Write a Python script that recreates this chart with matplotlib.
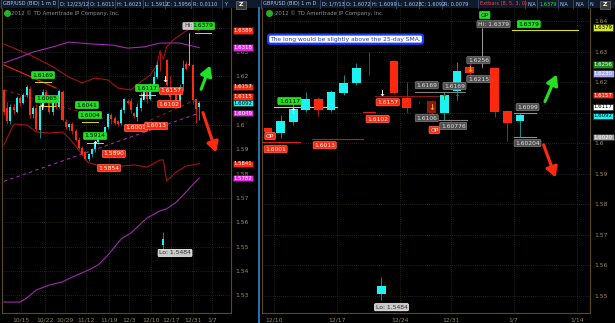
import matplotlib
matplotlib.use("Agg")
import matplotlib.pyplot as plt
import matplotlib.transforms as mtransforms
from matplotlib.patches import Rectangle

# daily GBP/USD bars (bar index 0..60); the right panel shows bars 40..60
opens = [1.6144, 1.6070, 1.6015, 1.6075, 1.6055, 1.6110, 1.6090, 1.6125, 1.6150, 1.6045,
         1.6070, 1.5980, 1.6075, 1.6135, 1.6115, 1.6055, 1.6100, 1.6075, 1.6136, 1.6012,
         1.5990, 1.6005, 1.5975, 1.5940, 1.5905, 1.5888, 1.5862, 1.5880, 1.5900, 1.5930,
         1.5960, 1.5950, 1.5990, 1.6040, 1.6030, 1.6015, 1.6010, 1.6060, 1.6100, 1.6100,
         1.6049, 1.6033, 1.6069, 1.6108, 1.6144, 1.6108, 1.6164, 1.6197, 1.6244, 1.5505,
         1.6269, 1.6148, 1.6135, 1.6138, 1.6098, 1.6170, 1.6249, 1.6250, 1.6246, 1.6105,
         1.6072]
highs = [1.6150, 1.6095, 1.6085, 1.6090, 1.6120, 1.6118, 1.6130, 1.6165, 1.6160, 1.6080,
         1.6085, 1.6090, 1.6150, 1.6145, 1.6125, 1.6105, 1.6110, 1.6150, 1.6145, 1.6025,
         1.6010, 1.6012, 1.5982, 1.5950, 1.5915, 1.5895, 1.5885, 1.5905, 1.5935, 1.5965,
         1.5968, 1.5995, 1.6050, 1.6048, 1.6038, 1.6022, 1.6068, 1.6110, 1.6108, 1.6110,
         1.6052, 1.6092, 1.6134, 1.6167, 1.6151, 1.6174, 1.6223, 1.6262, 1.6298, 1.5560,
         1.6272, 1.6200, 1.6137, 1.6140, 1.6167, 1.6266, 1.6262, 1.6379, 1.6250, 1.6108,
         1.6099]
lows = [1.6040, 1.6005, 1.6005, 1.6045, 1.6050, 1.6080, 1.6085, 1.6115, 1.6030, 1.6030,
        1.5975, 1.5945, 1.6065, 1.6100, 1.6045, 1.6040, 1.6065, 1.6070, 1.6015, 1.5985,
        1.5980, 1.5965, 1.5935, 1.5900, 1.5875, 1.5856, 1.5854, 1.5870, 1.5890, 1.5920,
        1.5940, 1.5945, 1.5985, 1.6005, 1.6000, 1.5995, 1.6002, 1.6050, 1.6085, 1.6050,
        1.6030, 1.6016, 1.6059, 1.6102, 1.6089, 1.6102, 1.6157, 1.6190, 1.6223, 1.5484,
        1.6160, 1.6098, 1.6132, 1.6095, 1.6075, 1.6141, 1.6225, 1.6245, 1.6085, 1.6007,
        1.6020]
closes = [1.6053, 1.6015, 1.6075, 1.6060, 1.6110, 1.6090, 1.6125, 1.6155, 1.6040, 1.6070,
          1.5985, 1.6075, 1.6135, 1.6110, 1.6053, 1.6100, 1.6075, 1.6140, 1.6020, 1.5990,
          1.6005, 1.5975, 1.5940, 1.5905, 1.5880, 1.5862, 1.5880, 1.5900, 1.5930, 1.5960,
          1.5950, 1.5990, 1.6045, 1.6025, 1.6010, 1.6005, 1.6062, 1.6105, 1.6090, 1.6060,
          1.6036, 1.6072, 1.6111, 1.6144, 1.6108, 1.6167, 1.6197, 1.6246, 1.6242, 1.5530,
          1.6164, 1.6115, 1.6134, 1.6098, 1.6157, 1.6236, 1.6230, 1.6248, 1.6102, 1.6066,
          1.6092]

# study lines on the left panel (bar index, value)
upper_band_x = [0, 3, 8, 14, 20, 24, 28, 32, 35, 39, 42, 45, 47, 48, 49, 50, 52, 55, 57, 60]
upper_band_y = [1.6333, 1.6316, 1.6288, 1.6247, 1.6197, 1.6173, 1.6193, 1.6185, 1.6152, 1.6144,
                1.6177, 1.6205, 1.6247, 1.6305, 1.6270, 1.6320, 1.6349, 1.6378, 1.6395, 1.6389]
lower_band_x = [0, 3, 7, 10, 14, 18, 20, 23, 26, 30, 36, 40, 44, 48, 49, 50, 53, 56, 60]
lower_band_y = [1.5918, 1.6004, 1.6000, 1.5971, 1.5967, 1.5971, 1.5947, 1.5897, 1.5844, 1.5831,
                1.5831, 1.5836, 1.5827, 1.5856, 1.5856, 1.5770, 1.5807, 1.5831, 1.5841]
upper_env_x = [0, 5, 9, 15, 20, 27, 33, 38, 43, 48, 54, 60]
upper_env_y = [1.6255, 1.6279, 1.6300, 1.6321, 1.6341, 1.6333, 1.6329, 1.6316, 1.6321, 1.6337,
               1.6337, 1.6318]
lower_env_x = [0, 5, 7, 10, 14, 18, 21, 26, 29, 32, 36, 39, 44, 48, 50, 53, 56, 60]
lower_env_y = [1.5272, 1.5272, 1.5289, 1.5322, 1.5342, 1.5355, 1.5375, 1.5404, 1.5425, 1.5466,
               1.5531, 1.5556, 1.5618, 1.5647, 1.5655, 1.5683, 1.5725, 1.5782]
sma_dash_x = [0, 60]
sma_dash_y = [1.5768, 1.6049]
trend_a_x = [0, 40, 60]
trend_a_y = [1.6144, 1.5990, 1.6110]
trend_b_x = [0, 16]
trend_b_y = [1.6247, 1.6152]

left_date_pos = [5.2, 12.6, 18.8, 25.2, 32.3, 38.5, 45.2, 51.4, 58.2, 64]
left_date_lbl = ["10/15", "10/22", "10/29", "11/12", "11/19", "12/3", "12/10", "12/17", "12/31", "1/7"]
right_date_pos = [0.5, 5.5, 10.5, 14.5, 19.5, 24.5]
right_date_lbl = ["12/10", "12/17", "12/24", "12/31", "1/7", "1/14"]
left_price_ticks = [1.53, 1.54, 1.55, 1.56, 1.57, 1.58, 1.59, 1.60, 1.61, 1.62, 1.63, 1.64]
left_hidden = [1.61, 1.64]          # covered by price tags in the screenshot
right_price_ticks = [1.55, 1.56, 1.57, 1.58, 1.59, 1.60, 1.61, 1.62, 1.63, 1.64]
right_hidden = [1.61]

BG = "black"
CYAN, CYAN_W = "#1cf2f2", "#128c8c"
RED, RED_W = "#ff2a0e", "#b81a0a"
TAN = "#a08a50"
GRID = "#4a4030"
MAROON = "#a31212"
PURPLE = "#a22ab0"


def candles(ax, xs, o, h, l, c, width):
    for x, oo, hh, ll, cc in zip(xs, o, h, l, c):
        up = cc >= oo
        ax.vlines(x, ll, hh, color=CYAN_W if up else RED_W, lw=0.7, zorder=2)
        ax.bar(x, max(abs(cc - oo), 0.00012), width, bottom=min(oo, cc),
               color=CYAN if up else RED, lw=0, zorder=3)


def tag(ax, x, y, s, fc, tc="white", ec=None, fs=4.3):
    ax.text(x, y, s, fontsize=fs, color=tc, ha="center", va="center", zorder=6,
            clip_on=False,
            bbox=dict(boxstyle="round,pad=0.18", fc=fc, ec=ec or fc, lw=0.5))


def axis_tag(ax, y, s, fc, tc="white"):
    tr = mtransforms.blended_transform_factory(ax.transAxes, ax.transData)
    ax.text(1.012, y, s, transform=tr, fontsize=3.9, color=tc, ha="left", va="center",
            zorder=6, clip_on=False,
            bbox=dict(boxstyle="square,pad=0.12", fc=fc, ec="#202020", lw=0.4))


def style(ax, xpos, xlbl, yticks, hidden):
    ax.set_facecolor(BG)
    ax.yaxis.tick_right()
    ax.set_yticks(yticks)
    ax.set_yticklabels(["" if any(abs(v - hv) < 1e-9 for hv in hidden) else f"{v:g}" for v in yticks])
    ax.set_xticks(xpos)
    ax.set_xticklabels(xlbl)
    ax.tick_params(colors=TAN, labelsize=4.3, length=0, pad=3)
    ax.grid(True, color=GRID, ls=(0, (1, 2)), lw=0.5)
    for s in ax.spines.values():
        s.set_color("#5c4a1e")
        s.set_linewidth(0.8)
    ax.spines["top"].set_visible(False)


fig = plt.figure(figsize=(6.15, 3.23), dpi=100, facecolor=BG)
W, H = 615.0, 323.0

axL = fig.add_axes([2 / W, 10 / H, 229 / W, 305 / H])
axR = fig.add_axes([262 / W, 10 / H, 328 / W, 305 / H])

# ---------------- left panel ----------------
idx = list(range(len(opens)))
style(axL, left_date_pos, left_date_lbl, left_price_ticks, left_hidden)
axL.set_xlim(-0.6, 69.8)
axL.set_ylim(1.5227, 1.6481)
axL.plot(upper_band_x, upper_band_y, color=MAROON, lw=0.8, zorder=1)
axL.plot(lower_band_x, lower_band_y, color=MAROON, lw=0.8, zorder=1)
axL.plot(upper_env_x, upper_env_y, color=PURPLE, lw=0.8, zorder=1)
axL.plot(lower_env_x, lower_env_y, color=PURPLE, lw=0.8, zorder=1)
axL.plot(sma_dash_x, sma_dash_y, color=PURPLE, lw=0.8, ls=(0, (3, 3)), zorder=1)
axL.plot(trend_a_x, trend_a_y, color="#8c1a10", lw=0.8, ls=(0, (3, 3)), zorder=1)
axL.plot(trend_b_x, trend_b_y, color="#e02010", lw=0.9, zorder=1)
candles(axL, idx, opens, highs, lows, closes, 0.62)
axL.vlines(57, closes[57], highs[57], color="#b0b0b0", lw=0.7, zorder=4)

for x, y, s in [(12, 1.6205, "1.6169"), (13.2, 1.6107, "1.6065"), (25.5, 1.6082, "1.6041"),
                (26.5, 1.6041, "1.6004"), (28, 1.5955, "1.5914"), (44, 1.6152, "1.6117"),
                (61.2, 1.6407, "1.6379")]:
    tag(axL, x, y, s, "#22e022", "black")
    axL.plot([x - 2.5, x + 2.5], [y - 0.0028, y - 0.0028], color="#d8e020", lw=0.7, zorder=5)
for x, y, s in [(33.8, 1.5881, "1.5890"), (32.3, 1.5823, "1.5854"), (40.6, 1.5988, "1.6001"),
                (46.8, 1.5996, "1.6013"), (51.4, 1.6140, "1.6157"), (50.8, 1.6086, "1.6102")]:
    tag(axL, x, y, s, RED, "white", ec="#ff7060")
tag(axL, 56.6, 1.6407, "Hi:", "#c8c8c8", "#303030")
tag(axL, 52.6, 1.5474, "Lo: 1.5484", "#c8c8c8", "#303030", ec="white")
for x, y in [(11.7, 1.6070), (28, 1.5918), (42.8, 1.6111)]:
    axL.text(x, y, "↑", color="white", fontsize=6, fontweight="bold", ha="center", va="center", zorder=7)
axL.text(49.5, 1.6185, "↓", color="white", fontsize=6, fontweight="bold", ha="center", va="center", zorder=7)

axL.annotate("", xy=(63.7, 1.6255), xytext=(60.3, 1.6136),
             arrowprops=dict(arrowstyle="-|>,head_width=0.35,head_length=0.6", color="#22e022", lw=2.2), zorder=8)
axL.annotate("", xy=(65.5, 1.5877), xytext=(60.9, 1.6062),
             arrowprops=dict(arrowstyle="-|>,head_width=0.35,head_length=0.6", color=RED, lw=2.2), zorder=8)

for y, s, fc, tc in [(1.6389, "1.6389", RED, "white"), (1.6318, "1.6318", "#e82ae8", "white"),
                     (1.6157, "1.6157", RED, "white"), (1.6117, "1.6115", RED, "white"),
                     (1.6090, "1.6092", CYAN, "black"), (1.6049, "1.6049", "#e82ae8", "white"),
                     (1.5841, "1.5841", RED, "white"), (1.5782, "1.5782", "#e82ae8", "white")]:
    axis_tag(axL, y, s, fc, tc)

# ---------------- right panel ----------------
ridx = [i - 40 for i in idx[40:]]
style(axR, right_date_pos, right_date_lbl, right_price_ticks, right_hidden)
axR.set_xlim(-0.48, 25.56)
axR.set_ylim(1.5443, 1.6443)
candles(axR, ridx, opens[40:], highs[40:], lows[40:], closes[40:], 0.7)
axR.bar(13, opens[53] - closes[53], 0.7, bottom=closes[53], color="#8a1a0c", lw=0, zorder=4)
axR.vlines(17, closes[57], highs[57], color="#a0a0a0", lw=0.7, zorder=4)

for xs, y, col in [((-0.5, 2.5), 1.6003, "#e02010"), ((0.5, 5.5), 1.6118, "#d8e020"),
                   ((3.5, 7.5), 1.6013, "#c01a10"), ((7.5, 8.5), 1.6102, "#e02010"),
                   ((8.5, 13.6), 1.6154, "#8a1a0c"), ((11.7, 15.6), 1.6167, "#808080"),
                   ((13.6, 15.8), 1.6075, "#808080"), ((19.5, 21.3), 1.6098, "#909090"),
                   ((19.5, 21.3), 1.6020, "#909090"), ((19.4, 24.6), 1.6370, "#d8e020")]:
    axR.plot(xs, [y, y], color=col, lw=0.8, zorder=2)

for x, y, s in [(0.16, 1.6023, "OP"), (0.6, 1.5980, "1.6001"), (4.5, 1.5993, "1.6013"),
                (8.7, 1.6079, "1.6102"), (9.5, 1.6134, "1.6157"), (13.2, 1.6043, "OP")]:
    tag(axR, x, y, s, RED, "white", ec="#ff7060")
for x, y, s in [(12.6, 1.6190, "1.6169"), (12.6, 1.6082, "1.6106"), (14.8, 1.6187, "1.6169"),
                (14.7, 1.6056, "1.60776"), (16.7, 1.6272, "1.6256"), (16.7, 1.6210, "1.6215"),
                (17.9, 1.6390, "Hi: 1.6379"), (20.6, 1.6118, "1.6099"), (20.6, 1.6000, "1.60204")]:
    tag(axR, x, y, s, "#505050", "#e0e0e0", ec="#808080")
tag(axR, 1.7, 1.6138, "1.6117", "#22e022", "black")
tag(axR, 20.7, 1.6390, "1.6379", "#22e022", "black")
tag(axR, 17.2, 1.6420, "OP", "#22e022", "black")
tag(axR, 9.8, 1.5462, "Lo: 1.5484", "#c8c8c8", "#303030", ec="white")
axR.text(2, 1.6105, "↑", color="white", fontsize=6, fontweight="bold", ha="center", va="center", zorder=7)
axR.text(9, 1.6164, "↓", color="white", fontsize=6, fontweight="bold", ha="center", va="center", zorder=7)
axR.text(13, 1.6118, "↓", color="#ffa020", fontsize=6, fontweight="bold", ha="center", va="center", zorder=7)
axR.text(16, 1.6240, "↓", color="#ffa020", fontsize=6, fontweight="bold", ha="center", va="center", zorder=7)
for x in (14, 15):
    axR.text(x, 1.6151, "↑", color="#1a8a1a", fontsize=6, fontweight="bold", ha="center", va="center", zorder=7)

axR.annotate("", xy=(23.0, 1.6233), xytext=(21.9, 1.6128),
             arrowprops=dict(arrowstyle="-|>,head_width=0.35,head_length=0.6", color="#22e022", lw=2.2), zorder=8)
axR.annotate("", xy=(22.9, 1.5879), xytext=(21.8, 1.6003),
             arrowprops=dict(arrowstyle="-|>,head_width=0.35,head_length=0.6", color=RED, lw=2.2), zorder=8)

axR.text(0.025, 0.898, "The long would be slightly above the 25-day SMA.", transform=axR.transAxes,
         fontsize=4.3, color="#2038d8", ha="left", va="center", zorder=9,
         bbox=dict(boxstyle="round,pad=0.35", fc="white", ec="#1a3cff", lw=1.6))

for y, s, fc, tc in [(1.6379, "1.6379", "#d4e81c", "black"), (1.6258, "1.6256", "#1e8c1e", "white"),
                     (1.6228, "1.6230", "#a8a8f0", "white"), (1.6157, "1.6157", RED, "white"),
                     (1.6119, "1.6117", "white", "black"), (1.6090, "1.6092", CYAN, "black"),
                     (1.6020, "1.6020", "#a0a0a0", "white")]:
    axis_tag(axR, y, s, fc, tc)

# copyright lines and logo
for ax in (axL, axR):
    ax.plot([0.02], [0.984], "o", color="#28b028", ms=4, transform=ax.transAxes, clip_on=False, zorder=9)
    ax.text(0.04, 0.984, "2012 © TD Ameritrade IP Company, Inc.", transform=ax.transAxes,
            fontsize=3.9, color="#909090", ha="left", va="center", zorder=9)

# header bars
fig.patches.append(Rectangle((0, 1 - 8 / H), 1, 8 / H, transform=fig.transFigure, fc="#0f1a2c", ec="none"))
header_left = [(3, "GBP/USD (BID) 1 m D"), (60, "D: 12/23/12"), (90, "O: 1.6011"), (117, "H: 1.6023"),
               (145, "L: 1.5912"), (167, "C: 1.5956"), (193, "R: 0.0110"), (224, "Y")]
header_right = [(263, "GBP/USD (BID) 1 m D"), (322, "D: 1/7/13"), (346, "O: 1.6072"), (372, "H: 1.6099"),
                (398, "L: 1.6028"), (421, "C: 1.6092"), (444, "R: 0.0079"), (480, "Extbars (8, 5, 3, 0)"),
                (527, "N/A"), (539, "1.6379"), (560, "N/A"), (575, "N/A"), (590, "N")]
for px, s in header_left + header_right:
    col = "#ff4040" if s.startswith("Extbars") else ("#30e030" if s == "1.6379" else "#a8c8f0")
    fig.text(px / W, 1 - 4 / H, s, fontsize=3.6, color=col, ha="left", va="center")
    fig.lines.append(plt.Line2D([(px - 2) / W] * 2, [1 - 8 / H, 1], transform=fig.transFigure,
                                color="#3a4a6a", lw=0.6))
for px in (236, 600):
    fig.patches.append(Rectangle((px / W, 1 - 8.5 / H), 10 / W, 8 / H, transform=fig.transFigure,
                                 fc="#3a3a3a", ec="#808080", lw=0.4))
    fig.text((px + 5) / W, 1 - 4.5 / H, "Z", fontsize=4.5, color="white", ha="center", va="center",
             fontweight="bold")

# panel separator
fig.lines.append(plt.Line2D([258.5 / W] * 2, [0, 1 - 8 / H], transform=fig.transFigure, color="#2a8ad0", lw=1.2))

fig.savefig("out.png", dpi=100, facecolor=BG)
